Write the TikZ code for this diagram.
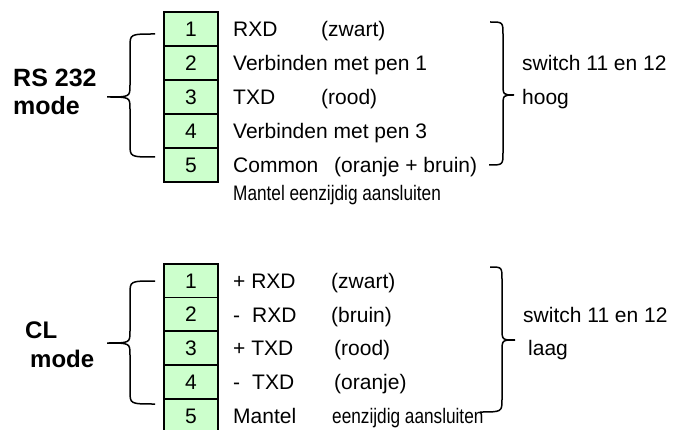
\documentclass[tikz,border=0pt]{standalone}
\usepackage{fontspec}
\setmainfont{Liberation Sans}
\newfontfamily\mynarrowfam[FakeStretch=0.82]{Liberation Sans}
\newcommand\myreg{\fontsize{21}{25}\selectfont}
\newcommand\mynarrow{\mynarrowfam\fontsize{21}{25}\selectfont}
\newcommand\mybig{\bfseries\fontsize{25}{29}\selectfont}
\newcommand\mybigb{\bfseries\fontsize{24}{28}\selectfont}
\definecolor{pingreen}{HTML}{CCFFCC}
\tikzset{
  pinbox/.style={draw=black, fill=pingreen, line width=1.8pt, minimum width=54pt, minimum height=34pt, inner sep=0pt, font=\myreg},
  lbl/.style={anchor=base west, inner sep=0pt, font=\myreg},
  nlbl/.style={anchor=base west, inner sep=0pt, font=\mynarrow},
  modelbl/.style={anchor=base west, inner sep=0pt, font=\mybig},
  modelblb/.style={anchor=base west, inner sep=0pt, font=\mybigb},
  bracestyle/.style={draw=black, line width=1.5pt}
}
\newcommand\leftbrace[6]{% end x, vertical x, tip x, top y, bottom y, tip y
  \draw[bracestyle] (#1,#4) .. controls (#2,#4) .. (#2,#4+13) -- (#2,#6-12)
    .. controls (#2,#6) .. (#3,#6) .. controls (#2,#6) .. (#2,#6+12) -- (#2,#5-13)
    .. controls (#2,#5) .. (#1,#5);}
\newcommand\rightbrace[7]{% top end x, vertical x, tip x, top y, bottom y, tip y, bottom end x
  \draw[bracestyle] (#1,#4) .. controls (#2,#4) .. (#2,#4+13) -- (#2,#6-12)
    .. controls (#2,#6) .. (#3,#6) .. controls (#2,#6) .. (#2,#6+12) -- (#2,#5-13)
    .. controls (#2,#5) .. (#7,#5);}
\begin{document}
\begin{tikzpicture}[x=1pt, y=-1pt]
\useasboundingbox (0,0) rectangle (674,430);

% ---------- RS 232 block ----------
\node[pinbox] (a1) at (191,29) {1};
\node[pinbox] (a2) at (191,63) {2};
\node[pinbox] (a3) at (191,97) {3};
\node[pinbox] (a4) at (191,131) {4};
\node[pinbox] (a5) at (191,165) {5};

\node[lbl] (ta1) at (233,36.5) {RXD};
\node[lbl] (ta1b) at (321,36.5) {(zwart)};
\node[lbl] (ta2) at (233,70.5) {Verbinden met pen 1};
\node[lbl] (ta3) at (233,104.5) {TXD};
\node[lbl] (ta3b) at (321,104.5) {(rood)};
\node[lbl] (ta4) at (233,138.5) {Verbinden met pen 3};
\node[lbl] (ta5) at (233,172.5) {Common};
\node[lbl] (ta5b) at (334,172.5) {(oranje + bruin)};
\node[nlbl] (tam) at (233,201) {Mantel eenzijdig aansluiten};

\node[modelbl] (rs1) at (13,87) {RS 232};
\node[modelbl] (rs2) at (13,115) {mode};

\node[lbl] (sw1) at (522,70.5) {switch 11 en 12};
\node[lbl] (hoog) at (522,104.5) {hoog};

\leftbrace{155}{130}{107}{34}{157}{97}
\rightbrace{490}{503}{514}{22}{165}{95}{489}

% ---------- CL block ----------
\node[pinbox] (b1) at (191,281) {1};
\node[pinbox] (b2) at (191,314.5) {2};
\node[pinbox] (b3) at (191,348) {3};
\node[pinbox] (b4) at (191,382) {4};
\node[pinbox] (b5) at (191,416) {5};

\node[lbl] (tb1) at (233,288.5) {+ RXD};
\node[lbl] (tb1b) at (331,288.5) {(zwart)};
\node[lbl] (tb2) at (233,322) {-\hspace{12pt}RXD};
\node[lbl] (tb2b) at (331,322) {(bruin)};
\node[lbl] (tb3) at (233,355.5) {+ TXD};
\node[lbl] (tb3b) at (334,355.5) {(rood)};
\node[lbl] (tb4) at (233,389.5) {-\hspace{12pt}TXD};
\node[lbl] (tb4b) at (334,389.5) {(oranje)};
\node[lbl] (tb5) at (233,423.5) {Mantel};
\node[nlbl] (tb5b) at (332,423.5) {eenzijdig aansluiten};

\node[modelblb] (cl1) at (25,338) {CL};
\node[modelblb] (cl2) at (30,367) {mode};

\node[lbl] (sw2) at (523,322) {switch 11 en 12};
\node[lbl] (laag) at (528,355.5) {laag};

\leftbrace{155}{130}{107}{281}{404}{343}
\rightbrace{490}{502}{515}{267}{412}{340}{480}
\end{tikzpicture}
\end{document}
